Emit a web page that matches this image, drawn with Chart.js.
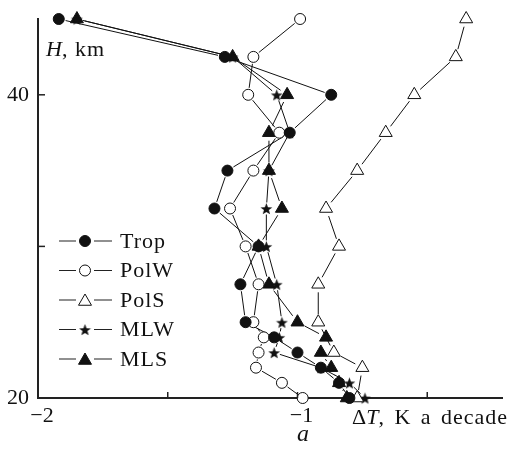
<!DOCTYPE html>
<html>
<head>
<meta charset="utf-8">
<script src="https://cdn.jsdelivr.net/npm/chart.js@4.4.1/dist/chart.umd.min.js"></script>
<style>
  html, body { margin: 0; padding: 0; background: #fff; }
  #wrap { width: 511px; height: 471px; }
</style>
</head>
<body>
<div id="wrap"><canvas id="profile"></canvas></div>
<script>
// height levels, km
const heights = [45, 42.5, 40, 37.5, 35, 32.5, 30, 27.5, 25, 24, 23, 22, 21, 20];

// temperature trends, K a decade (null = no point at that level)
const trop = [-1.92, -1.28, -0.87, -1.03, -1.27, -1.32, -1.15, -1.22, -1.20, -1.09, -1.00, -0.91, -0.84, -0.80];
const polW = [-0.99, -1.17, -1.19, -1.07, -1.17, -1.26, -1.20, -1.15, -1.17, -1.13, -1.15, -1.16, -1.06, -0.98];
const polS = [-0.35, -0.39, -0.55, -0.66, -0.77, -0.89, -0.84, -0.92, -0.92, null, -0.86, -0.75, null, -0.77];
const mlw  = [-1.85, -1.25, -1.08, -1.03, -1.11, -1.12, -1.12, -1.08, -1.06, -1.07, -1.09, -0.91, -0.80, -0.74];
const mls  = [-1.85, -1.25, -1.04, -1.11, -1.11, -1.06, -1.15, -1.11, -1.00, -0.89, -0.91, -0.87, -0.84, -0.81];

const seriesNames = ["Trop", "PolW", "PolS", "MLW", "MLS"];
const xTickLabels = { "-2": "\u22122", "-1": "\u22121" };
const yTickLabels = { 20: "20", 40: "40" };

const SERIF = "'Liberation Serif', 'Times New Roman', serif";
const INK = "#111";

const toPoints = (vals) =>
  heights.map((h, i) => ({ x: vals[i], y: h })).filter((p) => p.x !== null);

// filled five-pointed star used as a point image
function makeStar(size) {
  const c = document.createElement("canvas");
  c.width = c.height = size;
  const g = c.getContext("2d");
  const r = size / 2 - 0.3;
  const ri = r * 0.42;
  g.beginPath();
  for (let k = 0; k < 10; k++) {
    const rr = k % 2 ? ri : r;
    const a = -Math.PI / 2 + (k * Math.PI) / 5;
    g.lineTo(size / 2 + rr * Math.cos(a), size / 2 + 0.8 + rr * Math.sin(a));
  }
  g.closePath();
  g.fillStyle = INK;
  g.fill();
  return c;
}
const star = makeStar(13);

function drawTriangle(ctx, x, y, r) {
  ctx.beginPath();
  for (let k = 0; k < 3; k++) {
    const a = (k * 2 * Math.PI) / 3;
    ctx.lineTo(x + Math.sin(a) * r, y - Math.cos(a) * r);
  }
  ctx.closePath();
}

// lines between markers, stopped short of each marker like the original
const gapLines = {
  id: "gapLines",
  beforeDatasetsDraw(chart) {
    const { ctx } = chart;
    ctx.save();
    ctx.strokeStyle = INK;
    ctx.lineWidth = 1;
    chart.data.datasets.forEach((ds, i) => {
      const pts = chart.getDatasetMeta(i).data;
      const gap = ds.gap;
      for (let k = 1; k < pts.length; k++) {
        const a = pts[k - 1];
        const b = pts[k];
        const dx = b.x - a.x;
        const dy = b.y - a.y;
        const len = Math.hypot(dx, dy);
        if (len <= 2 * gap + 1) continue;
        const ux = dx / len;
        const uy = dy / len;
        ctx.beginPath();
        ctx.moveTo(a.x + ux * gap, a.y + uy * gap);
        ctx.lineTo(b.x - ux * gap, b.y - uy * gap);
        ctx.stroke();
      }
    });
    ctx.restore();
  },
};

// inner tick marks, x labels, axis titles, panel letter and legend
const decor = {
  id: "decor",
  afterDraw(chart) {
    const {
      ctx,
      chartArea: { left, bottom },
      scales: { x, y },
    } = chart;
    ctx.save();

    // TICKS (pointing inward)
    ctx.strokeStyle = "#222";
    ctx.lineWidth = 1.5;
    x.ticks.forEach((t) => {
      if (t.value <= -2) return;
      const px = x.getPixelForValue(t.value);
      ctx.beginPath();
      ctx.moveTo(px, bottom);
      ctx.lineTo(px, bottom - 6);
      ctx.stroke();
    });
    y.ticks.forEach((t) => {
      if (t.value <= 20) return;
      const py = y.getPixelForValue(t.value);
      ctx.beginPath();
      ctx.moveTo(left, py);
      ctx.lineTo(left + 7, py);
      ctx.stroke();
    });

    ctx.fillStyle = INK;
    ctx.textBaseline = "alphabetic";

    // X TICK LABELS
    ctx.font = "22px " + SERIF;
    ctx.textAlign = "center";
    x.ticks.forEach((t) => {
      const txt = xTickLabels[String(t.value)];
      if (!txt) return;
      ctx.fillText(txt, x.getPixelForValue(t.value) + 4, bottom + 24);
    });
    ctx.textAlign = "left";

    // H, km
    ctx.font = "italic 22px " + SERIF;
    ctx.fillText("H", 46, 56);
    let w = ctx.measureText("H").width;
    ctx.font = "22px " + SERIF;
    ctx.letterSpacing = "1px";
    ctx.fillText(", km", 46 + w, 56);

    // ΔT, K a decade
    ctx.letterSpacing = "0px";
    ctx.font = "22px " + SERIF;
    ctx.fillText("\u0394", 352, 424);
    let xx = 352 + ctx.measureText("\u0394").width;
    ctx.font = "italic 22px " + SERIF;
    ctx.fillText("T", xx, 424);
    xx += ctx.measureText("T").width;
    ctx.font = "22px " + SERIF;
    ctx.letterSpacing = "1px";
    ctx.wordSpacing = "3px";
    ctx.fillText(", K a decade", xx, 424);
    ctx.wordSpacing = "0px";

    // panel letter
    ctx.letterSpacing = "0px";
    ctx.font = "italic 24px " + SERIF;
    ctx.textAlign = "center";
    ctx.fillText("a", 303, 441);

    // LEGEND
    const rowY = [241, 270.5, 300, 329.5, 359];
    ctx.textAlign = "left";
    ctx.textBaseline = "middle";
    chart.data.datasets.forEach((ds, i) => {
      const cy = rowY[i];
      const cx = 85;
      ctx.strokeStyle = "#222";
      ctx.lineWidth = 1.2;
      ctx.beginPath();
      ctx.moveTo(59, cy);
      ctx.lineTo(76, cy);
      ctx.moveTo(94, cy);
      ctx.lineTo(112, cy);
      ctx.stroke();

      ctx.strokeStyle = INK;
      ctx.lineWidth = 1;
      ctx.fillStyle = ds.backgroundColor;
      if (ds.pointStyle === "circle") {
        ctx.beginPath();
        ctx.arc(cx, cy, ds.pointRadius, 0, Math.PI * 2);
        ctx.fill();
        ctx.stroke();
      } else if (ds.pointStyle === "triangle") {
        drawTriangle(ctx, cx, cy + 1.5, ds.pointRadius);
        ctx.fill();
        ctx.stroke();
      } else {
        ctx.drawImage(star, cx - star.width / 2, cy - star.height / 2);
      }

      ctx.fillStyle = INK;
      ctx.font = "22px " + SERIF;
      ctx.letterSpacing = "1px";
      ctx.fillText(ds.label, 120, cy + 1);
      ctx.letterSpacing = "0px";
    });

    ctx.restore();
  },
};

const makeSet = (label, vals, style, fill, radius, gap) => ({
  label,
  data: toPoints(vals),
  showLine: false,
  pointStyle: style,
  pointRadius: radius,
  pointHoverRadius: radius,
  backgroundColor: fill,
  borderColor: INK,
  pointBorderWidth: 1,
  clip: false,
  gap,
});

const config = {
  type: "scatter",
  data: {
    datasets: [
      makeSet(seriesNames[0], trop, "circle", INK, 5.5, 7),
      makeSet(seriesNames[1], polW, "circle", "#fff", 5.5, 7),
      makeSet(seriesNames[2], polS, "triangle", "#fff", 7.5, 8),
      makeSet(seriesNames[3], mlw, star, INK, 6, 6),
      makeSet(seriesNames[4], mls, "triangle", INK, 7.5, 8),
    ],
  },
  options: {
    responsive: true,
    maintainAspectRatio: false,
    animation: false,
    events: [],
    layout: {
      padding: { top: 19, bottom: 43, left: 0, right: 0 },
    },
    plugins: {
      legend: { display: false },
      tooltip: { enabled: false },
    },
    scales: {
      x: {
        type: "linear",
        min: -2,
        max: -0.21,
        grid: { display: false },
        border: { display: true, color: "#222", width: 2 },
        ticks: {
          display: false,
          stepSize: 0.5,
          includeBounds: false,
          autoSkip: false,
        },
        afterFit: (scale) => {
          scale.height = 30;
        },
      },
      y: {
        type: "linear",
        min: 20,
        max: 45,
        grid: { display: false },
        border: { display: true, color: "#222", width: 2 },
        ticks: {
          stepSize: 10,
          includeBounds: false,
          padding: 1,
          color: INK,
          font: { family: SERIF, size: 22 },
          autoSkip: false,
          callback: (v) => yTickLabels[v] || "",
        },
        afterFit: (scale) => {
          scale.width = 38;
        },
      },
    },
  },
  plugins: [gapLines, decor],
};

new Chart(document.getElementById("profile"), config);
</script>
</body>
</html>
